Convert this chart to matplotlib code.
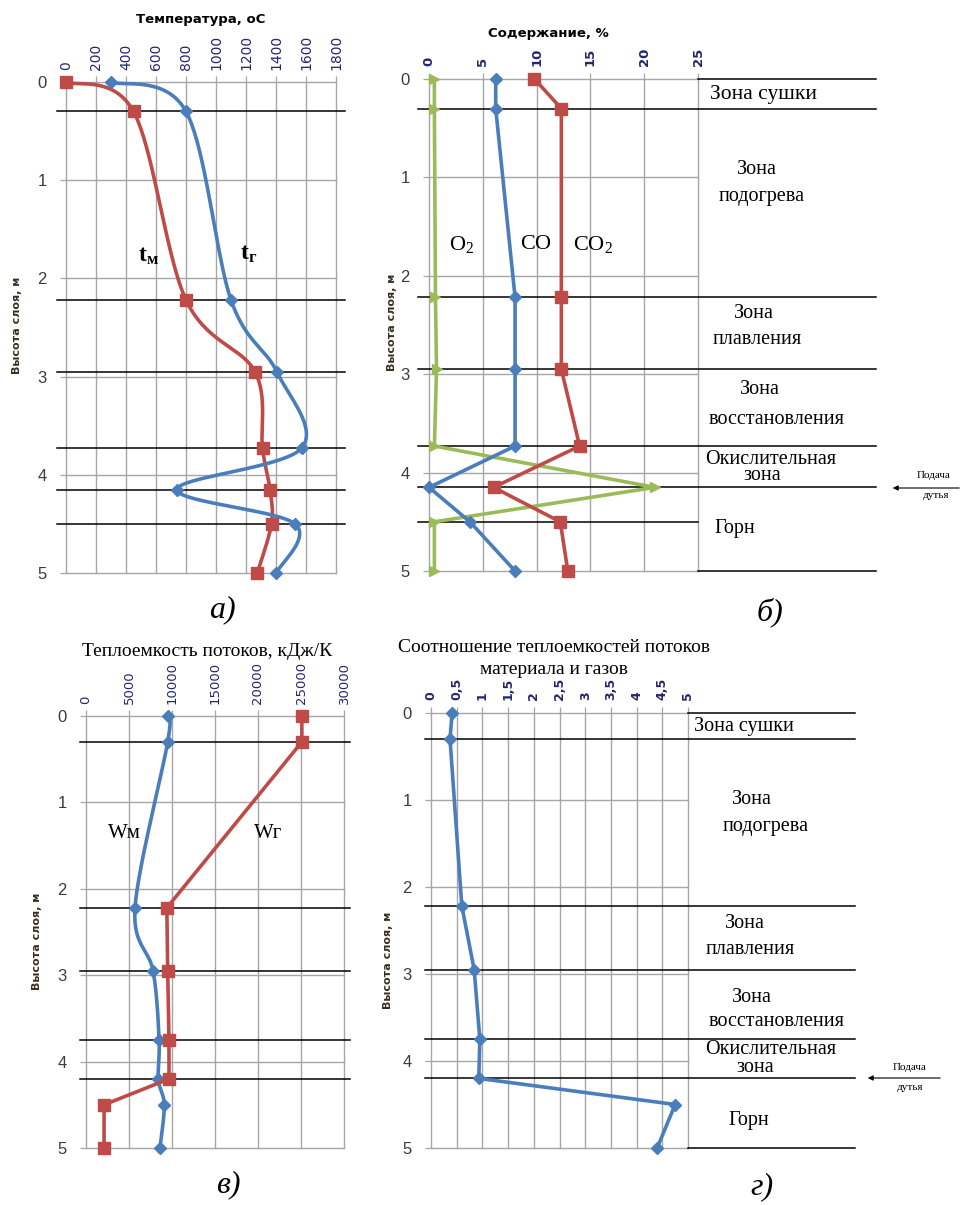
import numpy as np
import matplotlib
matplotlib.use("Agg")
import matplotlib.pyplot as plt
import matplotlib.transforms as mtransforms

# ── данные ─────────────────────────────────────────────────────────────────────
# высота слоя, м (верхние графики а, б)
h_ab = [0, 0.3, 2.22, 2.95, 3.73, 4.15, 4.5, 5]
t_mat = [0, 450, 800, 1260, 1310, 1360, 1370, 1275]     # tм, °C
t_gas = [300, 800, 1100, 1405, 1570, 740, 1527, 1400]   # tг, °C

o2 = [0.5, 0.5, 0.6, 0.7, 0.5, 21.0, 0.5, 0.5]
co = [6.2, 6.2, 8.0, 8.0, 8.0, 0.0, 3.8, 8.0]
co2 = [9.8, 12.3, 12.3, 12.3, 14.0, 6.0, 12.2, 12.9]

# высота слоя, м (нижние графики в, г)
h_cd = [0, 0.3, 2.22, 2.95, 3.75, 4.2, 4.5, 5]
w_mat = [9500, 9500, 5700, 7800, 8500, 8400, 9100, 8600]
w_gas = [25100, 25100, 9400, 9500, 9650, 9650, 2100, 2100]
w_ratio = [0.41, 0.37, 0.6, 0.84, 0.95, 0.93, 4.75, 4.4]

zones_ab = [0.3, 2.22, 2.95, 3.73, 4.15, 4.5]
zones_cd = [0.3, 2.22, 2.95, 3.75, 4.2]

ticks_a = list(range(0, 2000, 200))
ticks_b = [0, 5, 10, 15, 20, 25]
ticks_c = [0, 5000, 10000, 15000, 20000, 25000, 30000]
ticks_d = [0, 0.5, 1, 1.5, 2, 2.5, 3, 3.5, 4, 4.5, 5]
labels_d = ["0", "0,5", "1", "1,5", "2", "2,5", "3", "3,5", "4", "4,5", "5"]

# ── стиль ──────────────────────────────────────────────────────────────────────
BLUE = "#4A7EBB"
RED = "#BE4B48"
GREEN = "#9BBB59"
GRID = "#A6A6A6"
TICKC = "#26266E"
SERIF = "Liberation Serif"
SANS = "DejaVu Sans"

plt.rcParams.update({
    "font.family": SANS,
    "mathtext.fontset": "custom",
    "mathtext.rm": SERIF,
    "mathtext.it": SERIF + ":italic",
    "mathtext.bf": SERIF + ":bold",
})

W, H = 966, 1205
fig = plt.figure(figsize=(W / 100, H / 100), dpi=100)
fig.patch.set_facecolor("white")


def px_axes(x0, x1, ytop, ybot):
    return fig.add_axes([x0 / W, 1 - ybot / H, (x1 - x0) / W, (ybot - ytop) / H])


def ftext(x, y, s, **kw):
    # текст в пиксельных координатах рисунка
    fig.text(x / W, 1 - y / H, s, ha="center", va="center", **kw)


def smooth(xs, ys, sx, sy, n=40):
    # сглаживание как в Excel (Безье по Катмуллу-Рому в экранных координатах)
    P = np.column_stack([np.asarray(xs, float) * sx, np.asarray(ys, float) * sy])
    out = []
    for i in range(len(P) - 1):
        p0 = P[i - 1] if i > 0 else P[i]
        p1, p2 = P[i], P[i + 1]
        p3 = P[i + 2] if i + 2 < len(P) else P[i + 1]
        c1 = p1 + (p2 - p0) / 6
        c2 = p2 - (p3 - p1) / 6
        t = np.linspace(0, 1, n)[:, None]
        seg = (1 - t) ** 3 * p1 + 3 * (1 - t) ** 2 * t * c1 + 3 * (1 - t) * t ** 2 * c2 + t ** 3 * p2
        out.append(seg if i == 0 else seg[1:])
    out = np.vstack(out)
    return out[:, 0] / sx, out[:, 1] / sy


def setup(ax, xmax, xticks, xlabels, tick_bold=False, tick_size=9):
    ax.set_xlim(0, xmax)
    ax.set_ylim(5, 0)
    for s in ax.spines.values():
        s.set_visible(False)
    ax.xaxis.tick_top()
    ax.set_xticks(xticks)
    ax.set_xticklabels(xlabels, rotation=90, fontsize=tick_size, color=TICKC,
                       fontweight="bold" if tick_bold else "normal")
    ax.set_yticks(range(6))
    ax.set_yticklabels([str(i) for i in range(6)], fontsize=12,
                       family="Liberation Sans", color="#3C3C3C")
    ax.tick_params(axis="both", colors=GRID, length=4, width=0.9)
    ax.tick_params(axis="x", labelcolor=TICKC, pad=5)
    ax.tick_params(axis="y", labelcolor="#3C3C3C", pad=10)
    for v in xticks:
        ax.axvline(v, color=GRID, lw=1.0, zorder=1, clip_on=False)
    for v in range(6):
        ax.axhline(v, color=GRID, lw=1.0, zorder=1, clip_on=False)


def zone_lines(ax, depths, x_from, x_to):
    tr = mtransforms.blended_transform_factory(ax.transAxes, ax.transData)
    for d in depths:
        ax.plot([x_from, x_to], [d, d], color="black", lw=1.1, transform=tr,
                clip_on=False, zorder=2)


# ── а) температура ─────────────────────────────────────────────────────────────
ax1 = px_axes(66, 336, 82, 573)
setup(ax1, 1800, ticks_a, [str(v) for v in ticks_a], tick_size=10)
zone_lines(ax1, zones_ab, -0.035, 1.035)
sx, sy = 270 / 1800, 491 / 5
xs, ys = smooth(t_mat, h_ab, sx, sy)
ax1.plot(xs, ys, color=RED, lw=2.6, zorder=3, clip_on=False)
ax1.plot(t_mat, h_ab, "s", color=RED, ms=8.5, zorder=4, clip_on=False)
xs, ys = smooth(t_gas, h_ab, sx, sy)
ax1.plot(xs, ys, color=BLUE, lw=2.6, zorder=3, clip_on=False)
ax1.plot(t_gas, h_ab, "D", color=BLUE, ms=6, zorder=4, clip_on=False)
ftext(201, 20, "Температура, оС", fontsize=9.5, fontweight="bold")
ftext(148, 255, r"$\mathbf{t_{м}}$", fontsize=17)
ftext(249, 253, r"$\mathbf{t_{г}}$", fontsize=17)

# ── б) содержание газов ────────────────────────────────────────────────────────
ax2 = px_axes(429, 698, 79, 571)
setup(ax2, 25, ticks_b, [str(v) for v in ticks_b], tick_bold=True, tick_size=9.5)
zone_lines(ax2, zones_ab[:5], -0.04, 1.66)
zone_lines(ax2, [zones_ab[5]], -0.04, 1.0)
zone_lines(ax2, [0, 5], 1.0, 1.66)
ax2.plot(o2, h_ab, color=GREEN, lw=2.6, marker=">", ms=7, zorder=3, clip_on=False)
ax2.plot(co, h_ab, color=BLUE, lw=2.6, marker="D", ms=6, zorder=4, clip_on=False)
ax2.plot(co2, h_ab, color=RED, lw=2.6, marker="s", ms=8.5, zorder=5, clip_on=False)
ftext(548, 33, "Содержание, %", fontsize=9.5, fontweight="bold")
ftext(462, 245, r"$\mathrm{O_2}$", fontsize=16)
ftext(536, 243, r"$\mathrm{CO}$", fontsize=16)
ftext(593, 245, r"$\mathrm{CO_2}$", fontsize=16)

zfs = 14.5
ftext(764, 95, "Зона сушки", fontsize=15.5, family=SERIF)
ftext(757, 170, "Зона", fontsize=zfs, family=SERIF)
ftext(762, 196, "подогрева", fontsize=zfs, family=SERIF)
ftext(754, 314, "Зона", fontsize=zfs, family=SERIF)
ftext(757, 340, "плавления", fontsize=zfs, family=SERIF)
ftext(760, 390, "Зона", fontsize=zfs, family=SERIF)
ftext(777, 420, "восстановления", fontsize=zfs, family=SERIF)
ftext(771, 459, "Окислительная", fontsize=zfs, family=SERIF)
ftext(762, 476, "зона", fontsize=zfs, family=SERIF)
ftext(735, 528, "Горн", fontsize=zfs, family=SERIF)
fig.add_artist(matplotlib.patches.FancyArrowPatch(
    (962 / W, 1 - 488 / H), (890 / W, 1 - 488 / H), transform=fig.transFigure,
    arrowstyle="-|>,head_length=3,head_width=1.5", lw=0.8, color="black"))
ftext(934, 476, "Подача", fontsize=8, family=SERIF)
ftext(936, 496, "дутья", fontsize=8, family=SERIF)

# ── в) теплоемкость потоков ────────────────────────────────────────────────────
ax3 = px_axes(86, 344, 716, 1148)
setup(ax3, 30000, ticks_c, [str(v) for v in ticks_c], tick_size=9.5)
zone_lines(ax3, zones_cd, -0.025, 1.025)
xs, ys = smooth(w_mat, h_cd, 258 / 30000, 432 / 5)
ax3.plot(xs, ys, color=BLUE, lw=2.6, zorder=3, clip_on=False)
ax3.plot(w_mat, h_cd, "D", color=BLUE, ms=6, zorder=4, clip_on=False)
ax3.plot(w_gas, h_cd, color=RED, lw=2.6, marker="s", ms=8.5, zorder=5, clip_on=False)
ftext(207, 652, "Теплоемкость потоков, кДж/К", fontsize=14, family=SERIF)
ftext(124, 833, "Wм", fontsize=15, family=SERIF)
ftext(268, 833, "Wг", fontsize=15, family=SERIF)

# ── г) соотношение теплоемкостей ───────────────────────────────────────────────
ax4 = px_axes(431, 688, 713, 1148)
setup(ax4, 5, ticks_d, labels_d, tick_bold=True, tick_size=9)
zone_lines(ax4, zones_cd, -0.025, 1.65)
zone_lines(ax4, [0, 5], 1.0, 1.65)
ax4.plot(w_ratio, h_cd, color=BLUE, lw=2.6, marker="D", ms=6, zorder=4, clip_on=False)
ftext(554, 647, "Соотношение теплоемкостей потоков", fontsize=14, family=SERIF)
ftext(554, 669, "материала и газов", fontsize=14, family=SERIF)

zfs2 = 14.5
ftext(744, 727, "Зона сушки", fontsize=zfs2, family=SERIF)
ftext(752, 800, "Зона", fontsize=zfs2, family=SERIF)
ftext(766, 826, "подогрева", fontsize=zfs2, family=SERIF)
ftext(745, 924, "Зона", fontsize=zfs2, family=SERIF)
ftext(750, 950, "плавления", fontsize=zfs2, family=SERIF)
ftext(752, 998, "Зона", fontsize=zfs2, family=SERIF)
ftext(777, 1022, "восстановления", fontsize=zfs2, family=SERIF)
ftext(771, 1050, "Окислительная", fontsize=zfs2, family=SERIF)
ftext(755, 1067, "зона", fontsize=zfs2, family=SERIF)
ftext(749, 1120, "Горн", fontsize=zfs2, family=SERIF)
fig.add_artist(matplotlib.patches.FancyArrowPatch(
    (943 / W, 1 - 1078 / H), (865 / W, 1 - 1078 / H), transform=fig.transFigure,
    arrowstyle="-|>,head_length=3,head_width=1.5", lw=0.8, color="black"))
ftext(910, 1067, "Подача", fontsize=8, family=SERIF)
ftext(910, 1088, "дутья", fontsize=8, family=SERIF)

# подписи осей
for x, y in [(17, 325), (392, 322), (37, 941), (388, 960)]:
    ftext(x, y, "Высота слоя, м", fontsize=8, fontweight="bold", rotation=90,
          color="#3A3020")

# буквы рисунков
for x, y, s in [(222, 610, "а)"), (770, 612, "б)"), (228, 1185, "в)"), (762, 1187, "г)")]:
    ftext(x, y, s, fontsize=23, family=SERIF, style="italic")

fig.savefig("out.png", dpi=100)
